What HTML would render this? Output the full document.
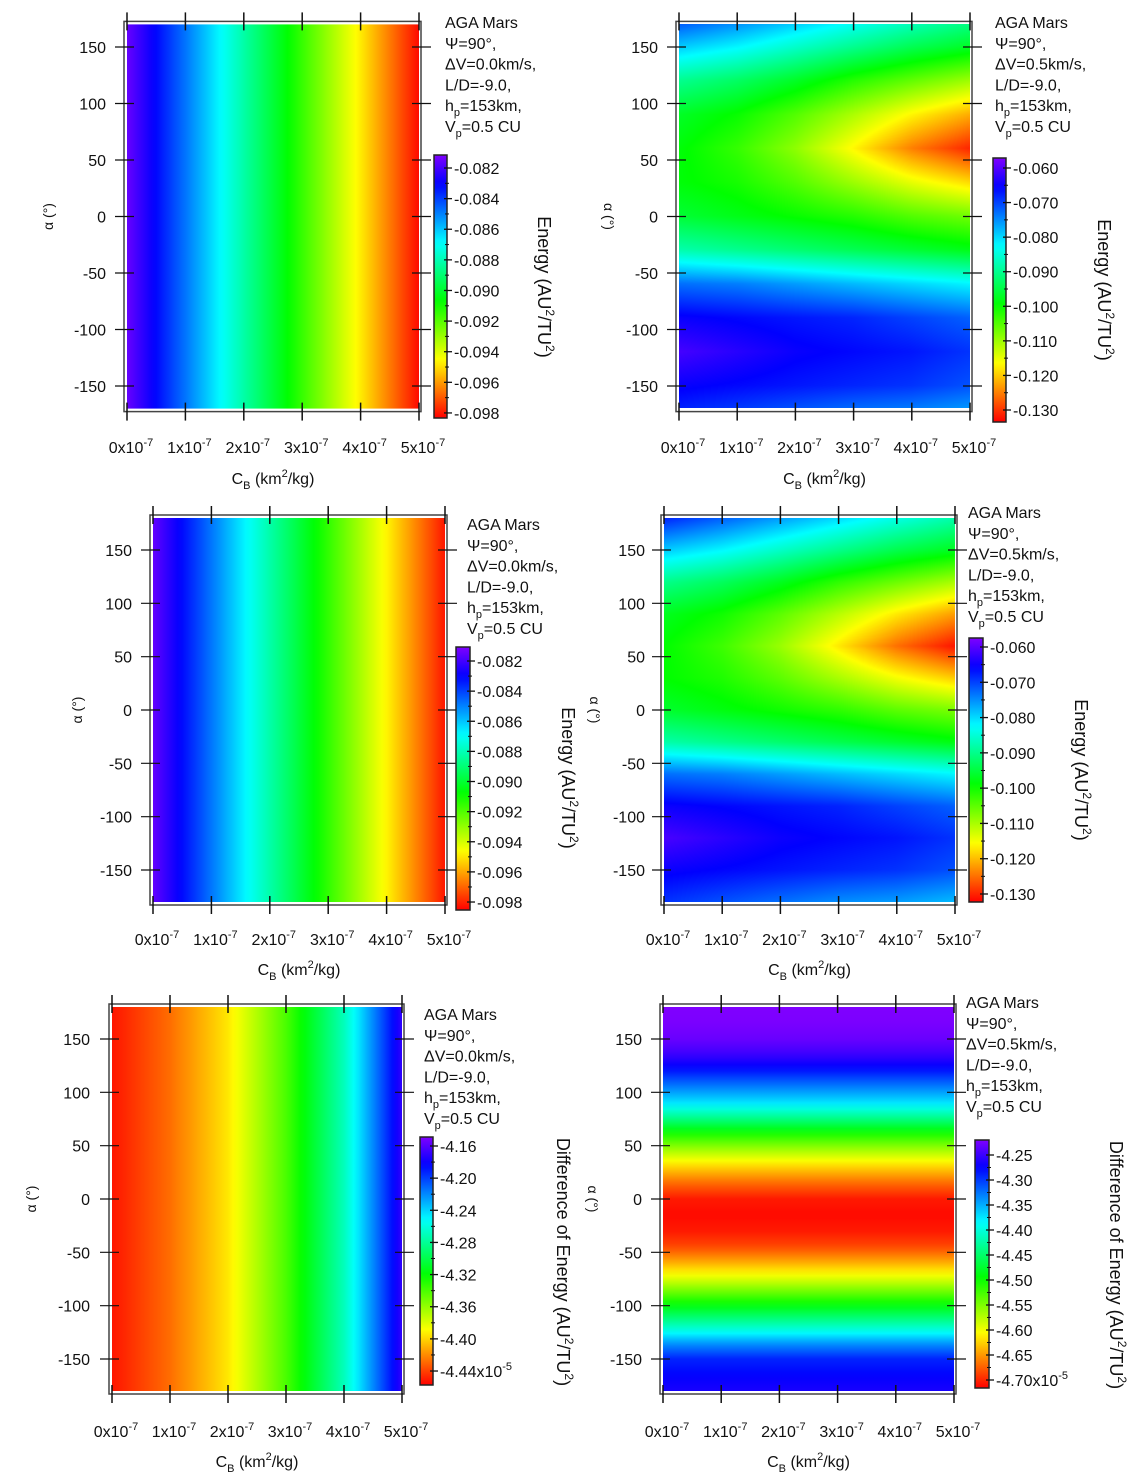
<!DOCTYPE html>
<html><head><meta charset="utf-8">
<style>
html,body{margin:0;padding:0;background:#fff;}
#wrap{position:relative;width:1143px;height:1484px;overflow:hidden;font-family:"Liberation Sans",Arial,sans-serif;}
canvas{position:absolute;}
svg{position:absolute;left:0;top:0;}
text{font-family:"Liberation Sans",Arial,sans-serif;fill:#111;}
</style></head>
<body>
<div id="wrap">
<svg id="svg" width="1143" height="1484"></svg>
</div>
<script>
// ---------- data ----------
const cbValues = [0, 1, 2, 3, 4, 5];               // C_B in units of 1e-7 km^2/kg
const p1Energy = [-0.0815, -0.0848, -0.0882, -0.0915, -0.0948, -0.0982];
const p5Diff = [-4.452, -4.428, -4.395, -4.34, -4.27, -4.17];
const alphaGrid = [180,150,120,90,60,30,0,-30,-60,-90,-120,-150,-180];
const p2Energy = [
 [-0.068,-0.072,-0.076,-0.080,-0.084,-0.088],
 [-0.079,-0.082,-0.086,-0.090,-0.094,-0.097],
 [-0.090,-0.093,-0.097,-0.102,-0.106,-0.110],
 [-0.097,-0.100,-0.105,-0.111,-0.117,-0.122],
 [-0.099,-0.103,-0.109,-0.117,-0.125,-0.131],
 [-0.099,-0.101,-0.105,-0.110,-0.115,-0.119],
 [-0.096,-0.098,-0.100,-0.102,-0.105,-0.107],
 [-0.088,-0.090,-0.092,-0.094,-0.096,-0.098],
 [-0.073,-0.074,-0.076,-0.078,-0.080,-0.082],
 [-0.065,-0.066,-0.067,-0.068,-0.070,-0.072],
 [-0.061,-0.063,-0.065,-0.066,-0.067,-0.069],
 [-0.065,-0.066,-0.067,-0.068,-0.069,-0.071],
 [-0.069,-0.071,-0.073,-0.075,-0.076,-0.078]
];
const alphaFine = [180,165,150,135,120,105,90,75,60,45,30,15,0,-15,-30,-45,-60,-75,-90,-105,-120,-135,-150,-165,-180];
const p6Diff = [-4.22,-4.222,-4.23,-4.25,-4.285,-4.33,-4.375,-4.44,-4.51,-4.57,-4.625,-4.67,-4.705,-4.712,-4.705,-4.685,-4.64,-4.59,-4.53,-4.47,-4.41,-4.34,-4.29,-4.275,-4.265];
const yTickValues = [150,100,50,0,-50,-100,-150];
const xTickValues = [0,1,2,3,4,5];
const cbTicksA = [-0.082,-0.084,-0.086,-0.088,-0.090,-0.092,-0.094,-0.096,-0.098];
const cbLabelsA = ["-0.082","-0.084","-0.086","-0.088","-0.090","-0.092","-0.094","-0.096","-0.098"];
const cbTicksB = [-0.060,-0.070,-0.080,-0.090,-0.100,-0.110,-0.120,-0.130];
const cbLabelsB = ["-0.060","-0.070","-0.080","-0.090","-0.100","-0.110","-0.120","-0.130"];
const cbTicksC = [-4.16,-4.20,-4.24,-4.28,-4.32,-4.36,-4.40,-4.44];
const cbLabelsC = ["-4.16","-4.20","-4.24","-4.28","-4.32","-4.36","-4.40","-4.44"];
const cbTicksD = [-4.25,-4.30,-4.35,-4.40,-4.45,-4.50,-4.55,-4.60,-4.65,-4.70];
const cbLabelsD = ["-4.25","-4.30","-4.35","-4.40","-4.45","-4.50","-4.55","-4.60","-4.65","-4.70"];

// ---------- layout ----------
const panels = [
 {id:'p1',kind:'cb',vals:p1Energy,x0:127,x1:419,y150:47,ym150:386,amax:170,lx:445,ly:28,dv:'0.0',
  cb:[434,155,447,418],vt:-0.08115,vb:-0.09833,ticks:cbTicksA,labels:cbLabelsA,exp:false,
  ctx:538,cty:287,title:'E',ylr:106,ytx:53,ytr:-90,xly:453,xty:484},
 {id:'p2',kind:'2d',x0:679,x1:970,y150:47,ym150:386,amax:170,lx:995,ly:28,dv:'0.5',
  cb:[993,158,1006,422],vt:-0.05711,vb:-0.13347,ticks:cbTicksB,labels:cbLabelsB,exp:false,
  ctx:1098,cty:290,title:'E',ylr:658,ytx:604,ytr:90,xly:453,xty:484},
 {id:'p3',kind:'cb',vals:p1Energy,x0:153,x1:445,y150:550,ym150:870,amax:180,lx:467,ly:530,dv:'0.0',
  cb:[456,647,470,910],vt:-0.08107,vb:-0.09853,ticks:cbTicksA,labels:cbLabelsA,exp:false,
  ctx:562,cty:778,title:'E',ylr:132,ytx:82,ytr:-90,xly:945,xty:975},
 {id:'p4',kind:'2d',x0:664,x1:955,y150:550,ym150:870,amax:180,lx:968,ly:518,dv:'0.5',
  cb:[969,638,983,902],vt:-0.05745,vb:-0.13227,ticks:cbTicksB,labels:cbLabelsB,exp:false,
  ctx:1075,cty:770,title:'E',ylr:645,ytx:590,ytr:90,xly:945,xty:975},
 {id:'p5',kind:'cb',vals:p5Diff,x0:112,x1:402,y150:1039,ym150:1359,amax:180,lx:424,ly:1020,dv:'0.0',
  cb:[420,1137,433,1385],vt:-4.1488,vb:-4.4574,ticks:cbTicksC,labels:cbLabelsC,exp:true,
  ctx:557,cty:1262,title:'D',ylr:90,ytx:36,ytr:-90,xly:1437,xty:1467},
 {id:'p6',kind:'alpha',vals:p6Diff,x0:663,x1:954,y150:1039,ym150:1359,amax:180,lx:966,ly:1008,dv:'0.5',
  cb:[975,1140,989,1388],vt:-4.22,vb:-4.716,ticks:cbTicksD,labels:cbLabelsD,exp:true,
  ctx:1110,cty:1265,title:'D',ylr:642,ytx:588,ytr:90,xly:1437,xty:1467}
];

const NS='http://www.w3.org/2000/svg';
const svg=document.getElementById('svg');
const wrap=document.getElementById('wrap');
function mk(tag,attrs,parent){const e=document.createElementNS(NS,tag);for(const k in attrs)e.setAttribute(k,attrs[k]);(parent||svg).appendChild(e);return e;}

function hsl2rgb(h){ // s=1,l=0.5
  const f=n=>{const k=(n+h/30)%12;return 0.5-0.5*Math.max(-1,Math.min(k-3,9-k,1));};
  return [Math.round(255*f(0)),Math.round(255*f(8)),Math.round(255*f(4))];
}
function colorT(t){t=Math.max(0,Math.min(1,t));return hsl2rgb(270*(1-t));}
function colorV(p,v){return colorT((p.vt-v)/(p.vt-p.vb));}
function rgbStr(c){return 'rgb('+c[0]+','+c[1]+','+c[2]+')';}
function interp1(xs,ys,x){
  if(xs[0]>xs[xs.length-1]){xs=xs.slice().reverse();ys=ys.slice().reverse();}
  if(x<=xs[0])return ys[0]; if(x>=xs[xs.length-1])return ys[ys.length-1];
  for(let i=0;i<xs.length-1;i++){if(x>=xs[i]&&x<=xs[i+1]){const f=(x-xs[i])/(xs[i+1]-xs[i]);return ys[i]+f*(ys[i+1]-ys[i]);}}
  return ys[0];
}
function interp2(cb,a){
  let i=0; while(i<alphaGrid.length-2 && a<alphaGrid[i+1]) i++;
  const fa=(alphaGrid[i]-a)/(alphaGrid[i]-alphaGrid[i+1]);
  const r0=interp1(cbValues,p2Energy[i],cb), r1=interp1(cbValues,p2Energy[i+1],cb);
  return r0+Math.max(0,Math.min(1,fa))*(r1-r0);
}
const defs=mk('defs',{});

panels.forEach(p=>{
  const X=v=>p.x0+(v-0)/(5-0)*(p.x1-p.x0);
  const Y=a=>p.y150+(150-a)/300*(p.ym150-p.y150);
  const g=mk('g',{});
  const fy0=Y(p.amax), fy1=Y(-p.amax);
  if(p.kind==='cb'||p.kind==='alpha'){
    const gid=p.id+'-grad';
    const lg=mk('linearGradient',{id:gid,x1:0,y1:0,x2:p.kind==='cb'?1:0,y2:p.kind==='cb'?0:1},defs);
    for(let k=0;k<=60;k++){
      const f=k/60; let v;
      if(p.kind==='cb') v=interp1(cbValues,p.vals,5*f);
      else v=interp1(alphaFine,p.vals,p.amax-2*p.amax*f);
      mk('stop',{offset:f,'stop-color':rgbStr(colorV(p,v))},lg);
    }
    const r=mk('rect',{x:X(0),y:fy0,width:X(5)-X(0),height:fy1-fy0,fill:'url(#'+gid+')'},g);
    
    
  } else {
    const c=document.createElement('canvas');
    const w=Math.round(X(5)-X(0)), h=Math.round(fy1-fy0);
    c.width=w;c.height=h;c.style.left=Math.round(X(0))+'px';c.style.top=Math.round(fy0)+'px';
    
    
    wrap.insertBefore(c,svg);
    const ctx=c.getContext('2d'); const img=ctx.createImageData(w,h);
    for(let j=0;j<h;j++){const a=p.amax-(j+0.5)/h*2*p.amax;
      for(let i=0;i<w;i++){const cbv=(i+0.5)/w*5;const col=colorV(p,interp2(cbv,a));
        const o=(j*w+i)*4;img.data[o]=col[0];img.data[o+1]=col[1];img.data[o+2]=col[2];img.data[o+3]=255;}}
    ctx.putImageData(img,0,0);
  }
  const fr=mk('rect',{x:p.x0-3,y:fy0-3,width:p.x1-p.x0+5,height:fy1-fy0+6,fill:'none',stroke:'#444','stroke-width':1.5},g);
  
  xTickValues.forEach(v=>{
    const x=X(v);
    mk('line',{x1:x,y1:fy0-12,x2:x,y2:fy0+6,stroke:'#111','stroke-width':1.5},g);
    mk('line',{x1:x,y1:fy1-6,x2:x,y2:fy1+12,stroke:'#111','stroke-width':1.5},g);
    const t=mk('text',{x:x+4,y:p.xly,'font-size':16,'text-anchor':'middle'},g);
    
    t.appendChild(document.createTextNode(v+'x10'));
    const s=mk('tspan',{dy:-7,'font-size':11},t); s.textContent='-7';
  });
  yTickValues.forEach(v=>{
    const y=Y(v);
    mk('line',{x1:p.x0-12,y1:y,x2:p.x0+7,y2:y,stroke:'#111','stroke-width':1.2},g);
    mk('line',{x1:p.x1-7,y1:y,x2:p.x1+12,y2:y,stroke:'#111','stroke-width':1.2},g);
    const t=mk('text',{x:p.ylr,y:y+6,'font-size':16,'text-anchor':'end'},g);
    
    t.textContent=v;
  });
  const xt=mk('text',{x:(p.x0+p.x1)/2,y:p.xty,'font-size':16,'text-anchor':'middle',},g);
  xt.innerHTML='C<tspan dy="5" font-size="11">B</tspan><tspan dy="-5"> (km</tspan><tspan dy="-7" font-size="11">2</tspan><tspan dy="7">/kg)</tspan>';
  const yc=(p.y150+p.ym150)/2;
  const yt=mk('text',{x:p.ytx,y:yc,'font-size':14,'text-anchor':'middle',transform:'rotate('+p.ytr+' '+p.ytx+' '+yc+')',},g);
  yt.textContent='α (°)';
  const lines=['AGA Mars','Ψ=90°,','ΔV='+p.dv+'km/s,','L/D=-9.0,','h<tspan dy="5" font-size="11">p</tspan><tspan dy="-5">=153km,</tspan>','V<tspan dy="5" font-size="11">p</tspan><tspan dy="-5">=0.5 CU</tspan>'];
  const lg=mk('g',{},g);
  lines.forEach((l,i)=>{const t=mk('text',{x:p.lx,y:p.ly+i*20.8,'font-size':16},lg);t.innerHTML=l;});
  const [cx0,cy0,cx1,cy1]=p.cb;
  const cgid=p.id+'-cbgrad';
  const cg=mk('linearGradient',{id:cgid,x1:0,y1:0,x2:0,y2:1},defs);
  for(let k=0;k<=40;k++){mk('stop',{offset:k/40,'stop-color':rgbStr(colorT(k/40))},cg);}
  const cbr=mk('rect',{x:cx0,y:cy0,width:cx1-cx0,height:cy1-cy0,fill:'url(#'+cgid+')',stroke:'#222','stroke-width':1.5},g);
  
  const CY=v=>cy0+(p.vt-v)/(p.vt-p.vb)*(cy1-cy0);
  p.ticks.forEach((v,i)=>{
    const y=CY(v);
    mk('line',{x1:cx1-3,y1:y,x2:cx1+5,y2:y,stroke:'#111','stroke-width':1.3},g);
    if(i<p.ticks.length-1){const ym=(y+CY(p.ticks[i+1]))/2;mk('line',{x1:cx1-2,y1:ym,x2:cx1+2,y2:ym,stroke:'#111','stroke-width':1},g);}
    const t=mk('text',{x:cx1+7,y:y+6,'font-size':16},g);
    
    t.textContent=p.labels[i];
    if(p.exp&&i===p.ticks.length-1){t.textContent=p.labels[i]+'x10';const s=mk('tspan',{dy:-7,'font-size':11},t);s.textContent='-5';}
  });
  const ct=mk('text',{x:p.ctx,y:p.cty,'font-size':18,'text-anchor':'middle',transform:'rotate(90 '+p.ctx+' '+p.cty+')',},g);
  ct.innerHTML=(p.title==='E'?'Energy':'Difference of Energy')+' (AU<tspan dy="-8" font-size="12">2</tspan><tspan dy="8">/TU</tspan><tspan dy="-8" font-size="12">2</tspan><tspan dy="8">)</tspan>';
});
</script>
</body></html>
